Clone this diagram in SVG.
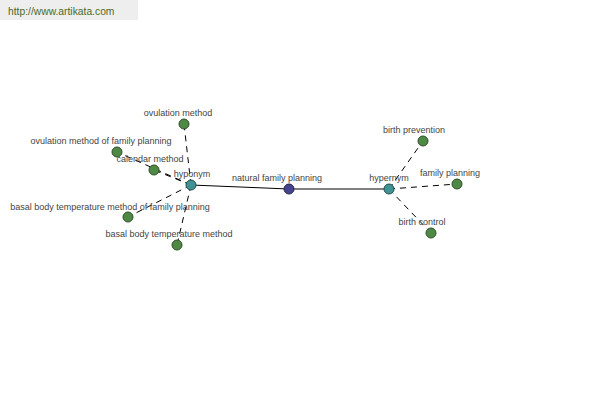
<svg xmlns="http://www.w3.org/2000/svg" width="600" height="400" viewBox="0 0 600 400">
<style>
text{font-family:"Liberation Sans",Arial,sans-serif;font-size:9px;fill:#444;text-anchor:middle}
.leaf{fill:#4e8a44;stroke:#2f4f2a;stroke-width:1}
.rel{fill:#3f9393;stroke:#244f4f;stroke-width:1}
.main{fill:#45458f;stroke:#25254f;stroke-width:1}
.solid{stroke:#000;stroke-width:1;fill:none}
.dash{stroke:#000;stroke-width:1;fill:none;stroke-dasharray:6,5}
</style>
<rect x="0" y="0" width="138" height="20" fill="#eeeeee"/>
<text x="8" y="15" style="text-anchor:start;font-size:10.3px;fill:#4a6a2a">http://www.artikata.com</text>
<g id="connectors">
<line class="solid" x1="191" y1="185" x2="289" y2="189"/>
<line class="solid" x1="289" y1="189" x2="389" y2="189"/>
<line class="dash" x1="191" y1="185" x2="184" y2="124"/>
<line class="dash" x1="191" y1="185" x2="117" y2="152"/>
<line class="dash" x1="191" y1="185" x2="154" y2="170"/>
<line class="dash" x1="191" y1="185" x2="128" y2="217"/>
<line class="dash" x1="191" y1="185" x2="177" y2="245"/>
<line class="dash" x1="389" y1="189" x2="423" y2="141"/>
<line class="dash" x1="389" y1="189" x2="457" y2="184"/>
<line class="dash" x1="389" y1="189" x2="431" y2="233"/>
</g>
<g id="n-ovulation-method"><circle class="leaf" cx="184" cy="124" r="5"/><text x="178" y="116">ovulation method</text></g>
<g id="n-ovulation-method-fp"><circle class="leaf" cx="117" cy="152" r="5"/><text x="101" y="144">ovulation method of family planning</text></g>
<g id="n-calendar-method"><circle class="leaf" cx="154" cy="170" r="5"/><text x="150" y="162">calendar method</text></g>
<g id="n-bbt-fp"><circle class="leaf" cx="128" cy="217" r="5"/><text x="110" y="210">basal body temperature method of family planning</text></g>
<g id="n-bbt"><circle class="leaf" cx="177" cy="245" r="5"/><text x="169" y="237">basal body temperature method</text></g>
<g id="n-hyponym"><circle class="rel" cx="191" cy="185" r="5"/><text x="192" y="177">hyponym</text></g>
<g id="n-nfp"><circle class="main" cx="289" cy="189" r="5"/><text x="277" y="181">natural family planning</text></g>
<g id="n-hypernym"><circle class="rel" cx="389" cy="189" r="5"/><text x="389" y="181">hypernym</text></g>
<g id="n-birth-prevention"><circle class="leaf" cx="423" cy="141" r="5"/><text x="414" y="133">birth prevention</text></g>
<g id="n-family-planning"><circle class="leaf" cx="457" cy="184" r="5"/><text x="450" y="176">family planning</text></g>
<g id="n-birth-control"><circle class="leaf" cx="431" cy="233" r="5"/><text x="422" y="225">birth control</text></g>
</svg>
